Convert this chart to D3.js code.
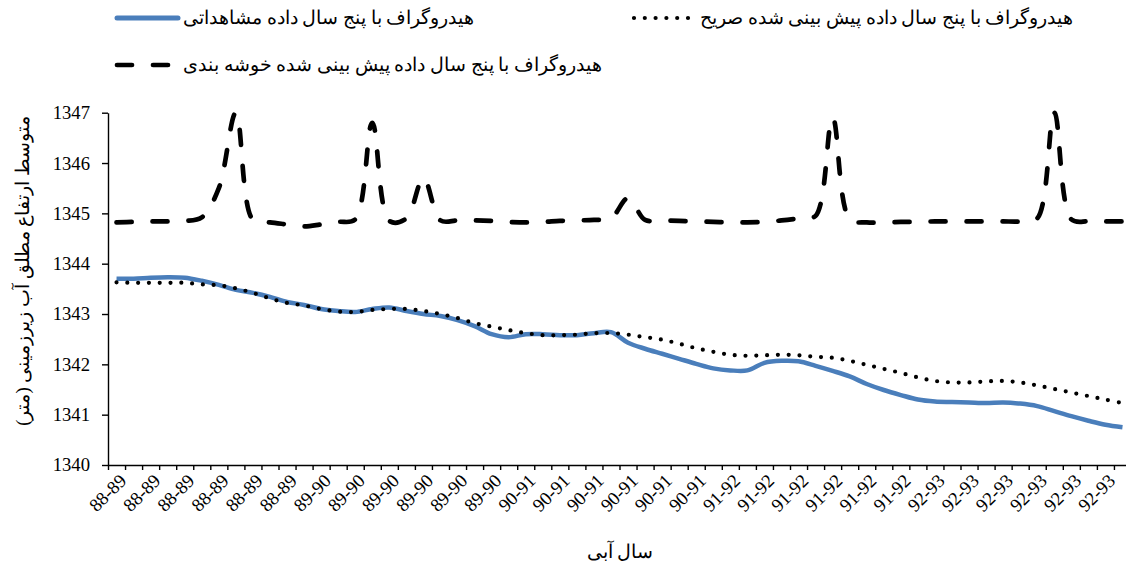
<!DOCTYPE html>
<html>
<head>
<meta charset="utf-8">
<script src="https://cdn.jsdelivr.net/npm/d3@7"></script>
<style>
  body { margin: 0; background: #fff; }
  svg { display: block; }
  text { font-family: "Liberation Serif", "DejaVu Serif", serif; fill: #000; }
</style>
</head>
<body>
<div id="graph"></div>
<script>
// water years, 12 months each
const years = ["88-89", "89-90", "90-91", "91-92", "92-93"];
const categories = years.flatMap(y => Array(12).fill(y));

// observed hydrograph
const observed = [
  1343.70, 1343.70, 1343.72, 1343.73, 1343.72, 1343.66, 1343.58, 1343.48, 1343.42, 1343.34,
  1343.24, 1343.18, 1343.10, 1343.06, 1343.04, 1343.10, 1343.13, 1343.06, 1343.00, 1342.96,
  1342.88, 1342.76, 1342.60, 1342.54, 1342.60, 1342.60, 1342.58, 1342.58, 1342.62, 1342.64,
  1342.43, 1342.31, 1342.21, 1342.11, 1342.01, 1341.92, 1341.88, 1341.88, 1342.03, 1342.07,
  1342.06, 1341.97, 1341.87, 1341.76, 1341.61, 1341.49, 1341.39, 1341.30, 1341.26, 1341.25,
  1341.24, 1341.23, 1341.24, 1341.22, 1341.17, 1341.07, 1340.97, 1340.88, 1340.80, 1340.75
];

// explicit forecast
const explicitPred = [
  1343.63, 1343.62, 1343.62, 1343.62, 1343.62, 1343.59, 1343.57, 1343.51, 1343.42, 1343.31,
  1343.22, 1343.17, 1343.10, 1343.05, 1343.04, 1343.08, 1343.10, 1343.10, 1343.06, 1343.00,
  1342.92, 1342.82, 1342.75, 1342.68, 1342.62, 1342.58, 1342.58, 1342.59, 1342.62, 1342.62,
  1342.59, 1342.54, 1342.49, 1342.41, 1342.32, 1342.25, 1342.19, 1342.17, 1342.18, 1342.19,
  1342.18, 1342.15, 1342.13, 1342.07, 1341.99, 1341.91, 1341.83, 1341.74, 1341.67, 1341.64,
  1341.64, 1341.66, 1341.67, 1341.64, 1341.58, 1341.51, 1341.44, 1341.37, 1341.30, 1341.23
];

// clustered forecast
const clusterPred = [
  1344.82, 1344.83, 1344.84, 1344.84, 1344.85, 1344.92, 1345.50, 1347.00, 1344.87, 1344.82,
  1344.78, 1344.74, 1344.78, 1344.83, 1344.88, 1346.80, 1344.85, 1344.90, 1345.70, 1344.86,
  1344.86, 1344.86, 1344.85, 1344.83, 1344.82, 1344.83, 1344.85, 1344.86, 1344.87, 1344.90,
  1345.30, 1344.87, 1344.86, 1344.85, 1344.84, 1344.83, 1344.82, 1344.82, 1344.83, 1344.86,
  1344.90, 1344.95, 1346.90, 1344.88, 1344.82, 1344.82, 1344.83, 1344.83, 1344.84, 1344.84,
  1344.84, 1344.84, 1344.84, 1344.84, 1344.90, 1347.00, 1344.88, 1344.84, 1344.84, 1344.84
];

const yTicks = [1340, 1341, 1342, 1343, 1344, 1345, 1346, 1347];

const legendLabels = [
  "هیدروگراف با پنج سال داده مشاهداتی",
  "هیدروگراف با پنج سال داده پیش بینی شده صریح",
  "هیدروگراف با پنج سال داده پیش بینی شده خوشه بندی"
];
const yTitle = "متوسط ارتفاع مطلق آب زیرزمینی (متر)";
const xTitle = "سال آبی";

const w = 1126, h = 569;
const plotLeft = 108, plotRight = 1131, plotTop = 112.7, plotBottom = 465;
const fontSize = "18.67px";
const serif = "'Liberation Serif', 'DejaVu Serif', serif";

const svg = d3.select("#graph").append("svg")
  .attr("width", w)
  .attr("height", h);

const x = d3.scaleBand()
  .domain(d3.range(categories.length))
  .range([plotLeft, plotRight])
  .padding(0);
const xEdge = d3.scaleLinear()
  .domain([0, categories.length])
  .range([plotLeft, plotRight]);
const y = d3.scaleLinear()
  .domain([1340, 1347])
  .range([plotBottom, plotTop]);

const cx = i => x(i) + x.bandwidth() / 2;

// y axis
const gy = svg.append("g")
  .attr("transform", `translate(${plotLeft},0)`)
  .call(d3.axisLeft(y).tickValues(yTicks).tickFormat(d3.format("d")).tickSize(6).tickSizeOuter(0).tickPadding(12));
gy.attr("font-family", null);
gy.select(".domain").attr("stroke", "#000").attr("stroke-width", 1.4);
gy.selectAll(".tick line").attr("stroke", "#000").attr("stroke-width", 1.4);
gy.selectAll(".tick text").style("font-size", fontSize).style("font-family", serif);

// x axis: tick marks between categories
const gx = svg.append("g")
  .attr("transform", `translate(0,${plotBottom})`)
  .call(d3.axisBottom(xEdge).tickValues(d3.range(categories.length + 1)).tickFormat("").tickSize(5).tickSizeOuter(0));
gx.select(".domain").attr("stroke", "#000").attr("stroke-width", 1.4);
gx.selectAll(".tick line").attr("stroke", "#000").attr("stroke-width", 1.4);

// x labels every second category
const gxl = svg.append("g")
  .attr("transform", `translate(0,${plotBottom})`)
  .call(d3.axisBottom(x)
    .tickValues(d3.range(0, categories.length, 2))
    .tickFormat(i => categories[i])
    .tickSize(0));
gxl.attr("font-family", null);
gxl.select(".domain").remove();
gxl.selectAll(".tick text")
  .attr("x", 0).attr("y", 0).attr("dy", 0)
  .attr("transform", "translate(11,17) rotate(-45)")
  .style("text-anchor", "end")
  .style("font-size", fontSize)
  .style("font-family", serif);

// lines
const line = d3.line()
  .x((d, i) => cx(i))
  .y(d => y(d))
  .curve(d3.curveCatmullRom);

svg.append("path")
  .datum(observed)
  .attr("d", line)
  .attr("fill", "none")
  .attr("stroke", "#4a7ebb")
  .attr("stroke-width", 4.5)
  .attr("stroke-linejoin", "round");

svg.append("path")
  .datum(explicitPred)
  .attr("d", line)
  .attr("fill", "none")
  .attr("stroke", "#000")
  .attr("stroke-width", 4.2)
  .attr("stroke-linecap", "round")
  .attr("stroke-dasharray", "0 10.8");

svg.append("path")
  .datum(clusterPred)
  .attr("d", line)
  .attr("fill", "none")
  .attr("stroke", "#000")
  .attr("stroke-width", 4.7)
  .attr("stroke-linecap", "round")
  .attr("stroke-linejoin", "round")
  .attr("stroke-dasharray", "15 21");

// legend
const legendItems = [
  { x: 115, y: 18, stroke: "#4a7ebb", width: 5, dash: null, cap: "round" },
  { x: 632, y: 18, stroke: "#000", width: 4.2, dash: "0 10.8", cap: "round" },
  { x: 115, y: 65, stroke: "#000", width: 4.7, dash: "15 21", cap: "round" }
];
legendItems.forEach((d, i) => {
  const g = svg.append("g").attr("transform", `translate(${d.x},${d.y})`);
  g.append("line")
    .attr("x1", 2).attr("x2", 63).attr("y1", 0).attr("y2", 0)
    .attr("stroke", d.stroke)
    .attr("stroke-width", d.width)
    .attr("stroke-linecap", d.cap)
    .attr("stroke-dasharray", d.dash);
  g.append("text")
    .attr("x", 68)
    .attr("y", 6)
    .style("font-size", fontSize)
    .text(legendLabels[i]);
});

// axis titles
svg.append("text")
  .attr("transform", `translate(29,${(plotTop + plotBottom) / 2 - 18}) rotate(-90)`)
  .attr("text-anchor", "middle")
  .style("font-size", fontSize)
  .text(yTitle);

svg.append("text")
  .attr("x", 620)
  .attr("y", 558)
  .attr("text-anchor", "middle")
  .style("font-size", fontSize)
  .text(xTitle);
</script>
</body>
</html>
